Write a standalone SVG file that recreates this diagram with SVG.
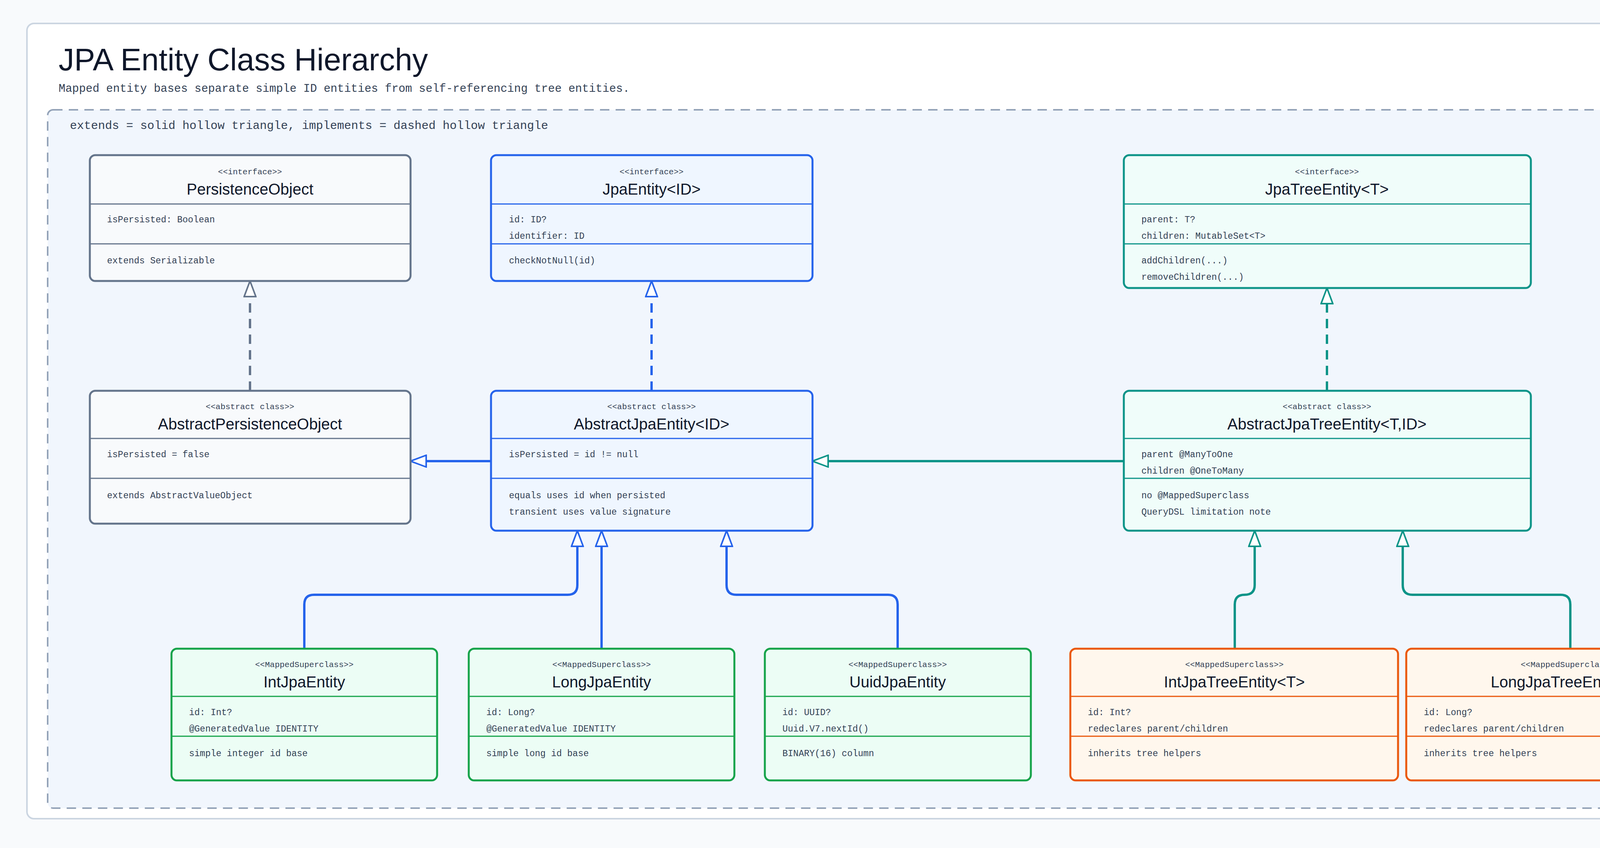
<svg xmlns="http://www.w3.org/2000/svg" width="4680" height="2170" viewBox="0 0 4680 2170">
<style>
.st{font-family:"Liberation Mono",monospace;font-size:21px;fill:#334155;text-anchor:middle}
.nm{font-family:"Liberation Sans",sans-serif;font-size:40px;fill:#0f172a;text-anchor:middle}
.tx{font-family:"Liberation Mono",monospace;font-size:23px;fill:#334155}
.box{stroke-width:5}
.dv{stroke-width:3}
.g .box,.g .dv{stroke:#64748b}.g .box{fill:#f8fafc}
.b .box,.b .dv{stroke:#2563eb}.b .box{fill:#eff6ff}
.t .box,.t .dv{stroke:#0d9488}.t .box{fill:#f0fdfa}
.gr .box,.gr .dv{stroke:#16a34a}.gr .box{fill:#ecfdf5}
.o .box,.o .dv{stroke:#ea580c}.o .box{fill:#fff7ed}
.c{fill:none;stroke-width:6;stroke-linejoin:round}
.d{stroke-dasharray:24 16}
</style>
<defs>
<marker id="mg" markerUnits="userSpaceOnUse" markerWidth="44" markerHeight="34" refX="42" refY="17" orient="auto"><path d="M2,2 L42,17 L2,32 Z" fill="#fff" stroke="#64748b" stroke-width="4"/></marker>
<marker id="mb" markerUnits="userSpaceOnUse" markerWidth="44" markerHeight="34" refX="42" refY="17" orient="auto"><path d="M2,2 L42,17 L2,32 Z" fill="#fff" stroke="#2563eb" stroke-width="4"/></marker>
<marker id="mt" markerUnits="userSpaceOnUse" markerWidth="44" markerHeight="34" refX="42" refY="17" orient="auto"><path d="M2,2 L42,17 L2,32 Z" fill="#fff" stroke="#0d9488" stroke-width="4"/></marker>
</defs>
<rect width="4680" height="2170" fill="#f8fafc"/>
<rect x="69" y="60" width="4545" height="2035" rx="18" fill="#fff" stroke="#cbd5e1" stroke-width="4"/>
<text x="150" y="180" font-family="Liberation Sans,sans-serif" font-size="80" fill="#0f172a">JPA Entity Class Hierarchy</text>
<text x="150" y="235" font-family="Liberation Mono,monospace" font-size="29" fill="#334155">Mapped entity bases separate simple ID entities from self-referencing tree entities.</text>
<rect x="122" y="281" width="4436" height="1787" rx="14" fill="#f1f6fd" stroke="#94a3b8" stroke-width="4" stroke-dasharray="24 16"/>
<text x="179" y="330" font-family="Liberation Mono,monospace" font-size="30" fill="#334155">extends = solid hollow triangle, implements = dashed hollow triangle</text>

<g id="connectors">
<path class="c d" stroke="#64748b" d="M640,1000 V719" marker-end="url(#mg)"/>
<path class="c d" stroke="#2563eb" d="M1668,1000 V719" marker-end="url(#mb)"/>
<path class="c d" stroke="#0d9488" d="M3397,1000 V737" marker-end="url(#mt)"/>
<path class="c" stroke="#2563eb" d="M1257,1180 H1051" marker-end="url(#mb)"/>
<path class="c" stroke="#0d9488" d="M2877,1180 H2080" marker-end="url(#mt)"/>
<path class="c" stroke="#2563eb" d="M779,1660 V1547 Q779,1522 804,1522 H1453 Q1478,1522 1478,1497 V1358" marker-end="url(#mb)"/>
<path class="c" stroke="#2563eb" d="M1540,1660 V1358" marker-end="url(#mb)"/>
<path class="c" stroke="#2563eb" d="M2298,1660 V1547 Q2298,1522 2273,1522 H1885 Q1860,1522 1860,1497 V1358" marker-end="url(#mb)"/>
<path class="c" stroke="#0d9488" d="M3161,1660 V1547 Q3161,1522 3186,1522 Q3212,1522 3212,1497 V1358" marker-end="url(#mt)"/>
<path class="c" stroke="#0d9488" d="M4020,1660 V1547 Q4020,1522 3995,1522 H3616 Q3591,1522 3591,1497 V1358" marker-end="url(#mt)"/>
</g>

<g id="PersistenceObject" class="g">
<rect class="box" x="230" y="397" width="821" height="322" rx="14"/>
<line class="dv" x1="230" y1="522" x2="1051" y2="522"/><line class="dv" x1="230" y1="624" x2="1051" y2="624"/>
<text class="st" x="640" y="446">&lt;&lt;interface&gt;&gt;</text>
<text class="nm" x="640" y="498">PersistenceObject</text>
<text class="tx" x="274" y="569">isPersisted: Boolean</text>
<text class="tx" x="274" y="674">extends Serializable</text>
</g>
<g id="JpaEntity" class="b">
<rect class="box" x="1257" y="397" width="823" height="322" rx="14"/>
<line class="dv" x1="1257" y1="522" x2="2080" y2="522"/><line class="dv" x1="1257" y1="624" x2="2080" y2="624"/>
<text class="st" x="1668" y="446">&lt;&lt;interface&gt;&gt;</text>
<text class="nm" x="1668" y="498">JpaEntity&lt;ID&gt;</text>
<text class="tx" x="1303" y="569">id: ID?</text>
<text class="tx" x="1303" y="611">identifier: ID</text>
<text class="tx" x="1303" y="674">checkNotNull(id)</text>
</g>
<g id="JpaTreeEntity" class="t">
<rect class="box" x="2877" y="397" width="1042" height="340" rx="14"/>
<line class="dv" x1="2877" y1="522" x2="3919" y2="522"/><line class="dv" x1="2877" y1="624" x2="3919" y2="624"/>
<text class="st" x="3397" y="446">&lt;&lt;interface&gt;&gt;</text>
<text class="nm" x="3397" y="498">JpaTreeEntity&lt;T&gt;</text>
<text class="tx" x="2922" y="569">parent: T?</text>
<text class="tx" x="2922" y="611">children: MutableSet&lt;T&gt;</text>
<text class="tx" x="2922" y="674">addChildren(...)</text>
<text class="tx" x="2922" y="716">removeChildren(...)</text>
</g>
<g id="AbstractPersistenceObject" class="g">
<rect class="box" x="230" y="1000" width="821" height="340" rx="14"/>
<line class="dv" x1="230" y1="1122" x2="1051" y2="1122"/><line class="dv" x1="230" y1="1224" x2="1051" y2="1224"/>
<text class="st" x="640" y="1047">&lt;&lt;abstract class&gt;&gt;</text>
<text class="nm" x="640" y="1099">AbstractPersistenceObject</text>
<text class="tx" x="274" y="1170">isPersisted = false</text>
<text class="tx" x="274" y="1275">extends AbstractValueObject</text>
</g>
<g id="AbstractJpaEntity" class="b">
<rect class="box" x="1257" y="1000" width="823" height="358" rx="14"/>
<line class="dv" x1="1257" y1="1122" x2="2080" y2="1122"/><line class="dv" x1="1257" y1="1224" x2="2080" y2="1224"/>
<text class="st" x="1668" y="1047">&lt;&lt;abstract class&gt;&gt;</text>
<text class="nm" x="1668" y="1099">AbstractJpaEntity&lt;ID&gt;</text>
<text class="tx" x="1303" y="1170">isPersisted = id != null</text>
<text class="tx" x="1303" y="1275">equals uses id when persisted</text>
<text class="tx" x="1303" y="1317">transient uses value signature</text>
</g>
<g id="AbstractJpaTreeEntity" class="t">
<rect class="box" x="2877" y="1000" width="1042" height="358" rx="14"/>
<line class="dv" x1="2877" y1="1122" x2="3919" y2="1122"/><line class="dv" x1="2877" y1="1224" x2="3919" y2="1224"/>
<text class="st" x="3397" y="1047">&lt;&lt;abstract class&gt;&gt;</text>
<text class="nm" x="3397" y="1099">AbstractJpaTreeEntity&lt;T,ID&gt;</text>
<text class="tx" x="2922" y="1170">parent @ManyToOne</text>
<text class="tx" x="2922" y="1212">children @OneToMany</text>
<text class="tx" x="2922" y="1275">no @MappedSuperclass</text>
<text class="tx" x="2922" y="1317">QueryDSL limitation note</text>
</g>
<g id="IntJpaEntity" class="gr">
<rect class="box" x="439" y="1660" width="680" height="337" rx="14"/>
<line class="dv" x1="439" y1="1782" x2="1119" y2="1782"/><line class="dv" x1="439" y1="1884" x2="1119" y2="1884"/>
<text class="st" x="779" y="1707">&lt;&lt;MappedSuperclass&gt;&gt;</text>
<text class="nm" x="779" y="1759">IntJpaEntity</text>
<text class="tx" x="484" y="1830">id: Int?</text>
<text class="tx" x="484" y="1872">@GeneratedValue IDENTITY</text>
<text class="tx" x="484" y="1935">simple integer id base</text>
</g>
<g id="LongJpaEntity" class="gr">
<rect class="box" x="1200" y="1660" width="680" height="337" rx="14"/>
<line class="dv" x1="1200" y1="1782" x2="1880" y2="1782"/><line class="dv" x1="1200" y1="1884" x2="1880" y2="1884"/>
<text class="st" x="1540" y="1707">&lt;&lt;MappedSuperclass&gt;&gt;</text>
<text class="nm" x="1540" y="1759">LongJpaEntity</text>
<text class="tx" x="1245" y="1830">id: Long?</text>
<text class="tx" x="1245" y="1872">@GeneratedValue IDENTITY</text>
<text class="tx" x="1245" y="1935">simple long id base</text>
</g>
<g id="UuidJpaEntity" class="gr">
<rect class="box" x="1958" y="1660" width="681" height="337" rx="14"/>
<line class="dv" x1="1958" y1="1782" x2="2639" y2="1782"/><line class="dv" x1="1958" y1="1884" x2="2639" y2="1884"/>
<text class="st" x="2298" y="1707">&lt;&lt;MappedSuperclass&gt;&gt;</text>
<text class="nm" x="2298" y="1759">UuidJpaEntity</text>
<text class="tx" x="2003" y="1830">id: UUID?</text>
<text class="tx" x="2003" y="1872">Uuid.V7.nextId()</text>
<text class="tx" x="2003" y="1935">BINARY(16) column</text>
</g>
<g id="IntJpaTreeEntity" class="o">
<rect class="box" x="2740" y="1660" width="839" height="337" rx="14"/>
<line class="dv" x1="2740" y1="1782" x2="3579" y2="1782"/><line class="dv" x1="2740" y1="1884" x2="3579" y2="1884"/>
<text class="st" x="3160" y="1707">&lt;&lt;MappedSuperclass&gt;&gt;</text>
<text class="nm" x="3160" y="1759">IntJpaTreeEntity&lt;T&gt;</text>
<text class="tx" x="2785" y="1830">id: Int?</text>
<text class="tx" x="2785" y="1872">redeclares parent/children</text>
<text class="tx" x="2785" y="1935">inherits tree helpers</text>
</g>
<g id="LongJpaTreeEntity" class="o">
<rect class="box" x="3600" y="1660" width="838" height="337" rx="14"/>
<line class="dv" x1="3600" y1="1782" x2="4438" y2="1782"/><line class="dv" x1="3600" y1="1884" x2="4438" y2="1884"/>
<text class="st" x="4019" y="1707">&lt;&lt;MappedSuperclass&gt;&gt;</text>
<text class="nm" x="4019" y="1759">LongJpaTreeEntity&lt;T&gt;</text>
<text class="tx" x="3645" y="1830">id: Long?</text>
<text class="tx" x="3645" y="1872">redeclares parent/children</text>
<text class="tx" x="3645" y="1935">inherits tree helpers</text>
</g>
</svg>
